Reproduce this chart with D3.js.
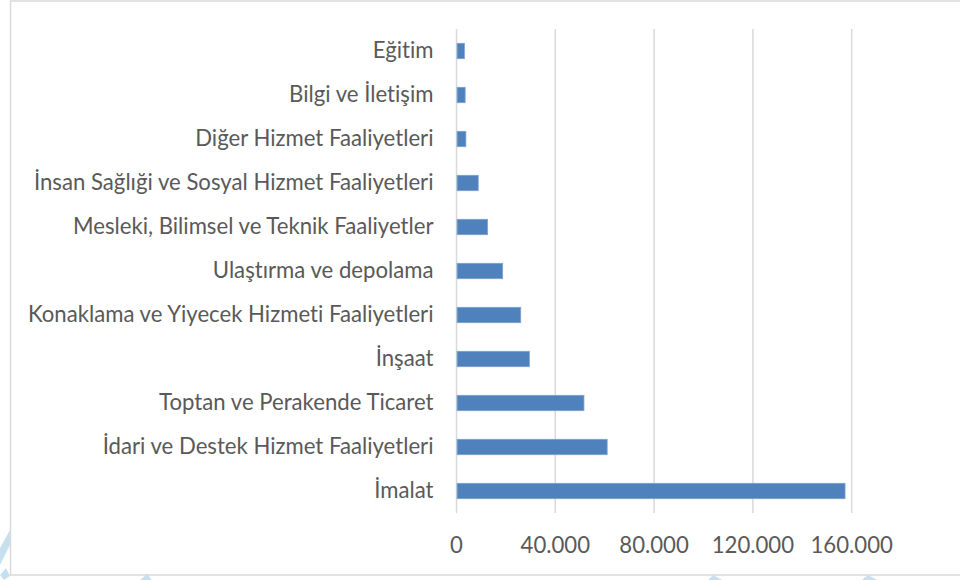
<!DOCTYPE html>
<html>
<head>
<meta charset="utf-8">
<script src="https://cdn.jsdelivr.net/npm/d3@7"></script>
<style>
  body { margin: 0; background: #fff; }
  svg { display: block; }
  text { font-family: Lato, "Open Sans", sans-serif; fill: #595959; font-variant-ligatures: none; }
  .grid line { stroke: #d9d9d9; stroke-width: 1.5; }
  .bar { fill: #4f81bd; stroke: #7ea3d2; stroke-width: 0.8; }
</style>
</head>
<body>
<svg id="chart" width="960" height="580"></svg>
<script>
  // sectors, top to bottom as drawn
  var sectors = [
    "Eğitim",
    "Bilgi ve İletişim",
    "Diğer Hizmet Faaliyetleri",
    "İnsan Sağlıği ve Sosyal Hizmet Faaliyetleri",
    "Mesleki, Bilimsel ve Teknik Faaliyetler",
    "Ulaştırma ve depolama",
    "Konaklama ve Yiyecek Hizmeti Faaliyetleri",
    "İnşaat",
    "Toptan ve Perakende Ticaret",
    "İdari ve Destek Hizmet Faaliyetleri",
    "İmalat"
  ];
  var counts = [3200, 3500, 3800, 8800, 12600, 18700, 26000, 29500, 51600, 61000, 157300];
  var tickValues = [0, 40000, 80000, 120000, 160000];
  var tickLabels = ["0", "40.000", "80.000", "120.000", "160.000"];

  var svg = d3.select('#chart');

  // light watermark strokes under the frame
  var marks = [
    "M0,548 L10,530 L10,545 L0,565 Z",
    "M0,575 L6,568 L10,576 L4,580 Z",
    "M140,580 L147,574 L152,580 Z",
    "M708,580 L713,575 L722,580 Z",
    "M862,580 L868,575 L877,580 Z"
  ];
  svg.selectAll("path.wm")
    .data(marks)
    .enter()
    .append("path")
    .classed('wm', true)
    .attr('d', function(d) { return d; })
    .attr('fill', '#c7e0ef');

  // chart frame
  svg.append("rect")
    .attr('x', 10.5)
    .attr('y', 1)
    .attr('width', 960)
    .attr('height', 574)
    .attr('fill', 'none')
    .attr('stroke', '#d9d9d9')
    .attr('stroke-width', 1.5);

  var x = d3.scaleLinear()
    .domain([0, 200000])
    .range([456.5, 950.5]);

  var y = d3.scaleBand()
    .domain(sectors)
    .range([29, 513])
    .paddingInner(0.65)
    .paddingOuter(0.325);

  var grid = svg.append("g")
    .classed('grid', true);

  grid.selectAll("line")
    .data(tickValues)
    .enter()
    .append("line")
    .attr('x1', function(d) { return x(d); })
    .attr('x2', function(d) { return x(d); })
    .attr('y1', 29)
    .attr('y2', 513);

  svg.selectAll("rect.bar")
    .data(counts)
    .enter()
    .append("rect")
    .classed('bar', true)
    .attr('x', x(0) + 0.6)
    .attr('y', function(d, i) { return y(sectors[i]); })
    .attr('width', function(d) { return x(d) - x(0) - 0.6; })
    .attr('height', y.bandwidth());

  // category labels
  var labels = svg.selectAll("text.cat")
    .data(sectors)
    .enter()
    .append("text")
    .classed('cat', true)
    .attr('text-anchor', 'end')
    .attr('x', 433.5)
    .attr('y', function(d) { return y(d) + y.bandwidth() / 2 + 7; })
    .style('font-size', '20px')
    .text(function(d) { return d; });

  // fit the longest label to the width it has in the picture
  var widest = d3.max(labels.nodes(), function(n) { return n.getComputedTextLength(); });
  var size = 20 * 406 / widest;
  labels.style('font-size', size + 'px');

  svg.selectAll("text.tick")
    .data(tickValues)
    .enter()
    .append("text")
    .classed('tick', true)
    .attr('text-anchor', 'middle')
    .attr('x', function(d) { return x(d); })
    .attr('y', 553)
    .style('font-size', size + 'px')
    .text(function(d, i) { return tickLabels[i]; });
</script>
</body>
</html>
